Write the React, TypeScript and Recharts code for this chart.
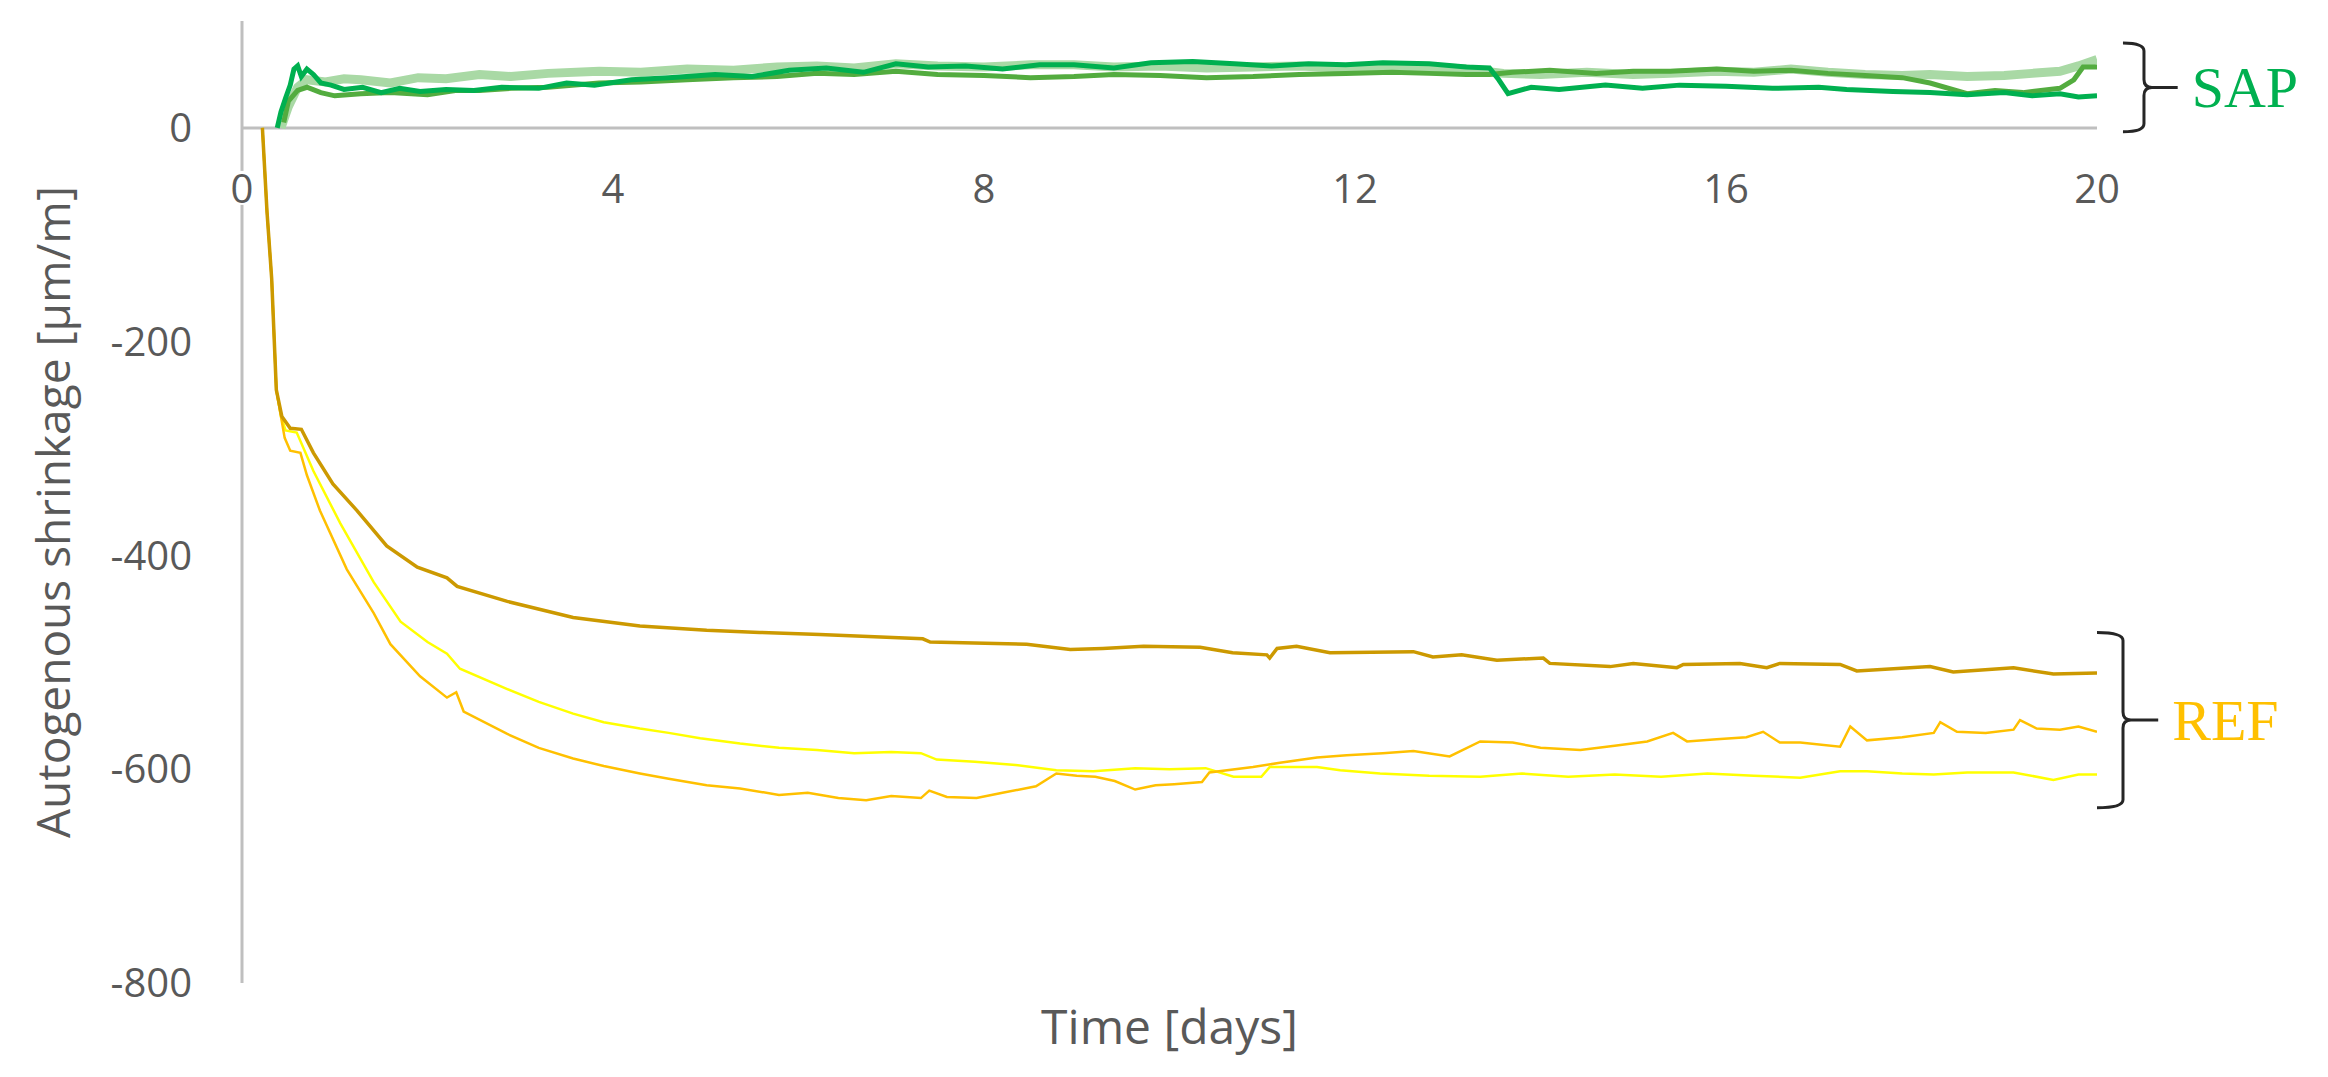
import { LineChart, Line, XAxis, YAxis, ReferenceLine, ReferenceDot, ReferenceArea, Label } from 'recharts'

// [day, µm/m]
const sapDark: [number, number][] = [
  [0.38, 0], [0.42, 15], [0.47, 28], [0.52, 40], [0.56, 55], [0.6, 58], [0.64, 48], [0.7, 55], [0.77, 50], [0.85, 42],
  [0.96, 40], [1.1, 36], [1.3, 38], [1.5, 33], [1.7, 37], [1.92, 34], [2.2, 36], [2.5, 35], [2.8, 38], [3.2, 37],
  [3.5, 42], [3.8, 40], [4.2, 45], [4.6, 47], [5.1, 50], [5.5, 48], [5.9, 54], [6.3, 56], [6.7, 52], [7.05, 60],
  [7.4, 57], [7.8, 58], [8.2, 55], [8.6, 59], [8.97, 59], [9.4, 56], [9.8, 61], [10.25, 62], [10.7, 60], [11.1, 58],
  [11.5, 60], [11.9, 59], [12.3, 61], [12.8, 60], [13.2, 57], [13.45, 56], [13.55, 45], [13.65, 32], [13.9, 38], [14.2, 36],
  [14.7, 40], [15.1, 37], [15.5, 40], [16, 39], [16.5, 37], [17, 38], [17.3, 36], [17.8, 34], [18.2, 33], [18.6, 31],
  [19, 33], [19.3, 30], [19.6, 32], [19.8, 29], [20, 30],
]
const sapMid: [number, number][] = [
  [0.45, 5], [0.5, 25], [0.6, 35], [0.7, 38], [0.85, 33], [1.0, 30], [1.28, 32], [1.6, 33], [2.0, 31], [2.3, 35],
  [2.56, 35], [2.9, 37], [3.3, 38], [3.85, 42], [4.3, 43], [4.8, 45], [5.3, 47], [5.77, 48], [6.2, 51], [6.6, 50],
  [7.05, 53], [7.5, 50], [8.0, 49], [8.5, 47], [8.97, 48], [9.4, 50], [9.9, 49], [10.4, 47], [10.9, 48], [11.4, 50],
  [11.9, 51], [12.4, 52], [12.8, 51], [13.2, 50], [13.45, 50], [13.7, 52], [14.1, 54], [14.6, 51], [15, 53], [15.4, 53],
  [15.9, 55], [16.3, 53], [16.7, 54], [17.1, 51], [17.5, 49], [17.9, 47], [18.2, 42], [18.6, 32], [18.9, 35], [19.2, 33],
  [19.6, 37], [19.75, 45], [19.85, 57], [20, 57],
]
const sapLight: [number, number][] = [
  [0.42, 0], [0.5, 20], [0.6, 38], [0.7, 45], [0.9, 43], [1.1, 46], [1.28, 45], [1.6, 42], [1.9, 47], [2.2, 46],
  [2.56, 50], [2.9, 48], [3.3, 51], [3.85, 53], [4.3, 52], [4.8, 55], [5.3, 54], [5.77, 57], [6.2, 58], [6.6, 56],
  [7.05, 60], [7.5, 58], [8.0, 57], [8.5, 59], [8.97, 59], [9.4, 57], [9.9, 58], [10.4, 56], [10.9, 57], [11.4, 58],
  [11.9, 56], [12.4, 58], [12.8, 57], [13.2, 55], [13.6, 51], [14.0, 50], [14.5, 52], [15, 50], [15.4, 51], [15.9, 53],
  [16.3, 52], [16.7, 55], [17.1, 52], [17.5, 50], [17.9, 49], [18.2, 50], [18.6, 48], [19, 49], [19.3, 51], [19.6, 53],
  [19.8, 58], [20, 64],
]
const refDark: [number, number][] = [
  [0.22, 0], [0.27, -79], [0.32, -141], [0.37, -245], [0.43, -270], [0.52, -281], [0.64, -282], [0.77, -304], [0.98, -333], [1.24, -358],
  [1.56, -391], [1.89, -411], [2.21, -421], [2.32, -429], [2.86, -443], [3.57, -458], [4.29, -466], [5.01, -470], [5.58, -472], [6.23, -474],
  [7.34, -478], [7.42, -481], [8.46, -483], [8.93, -488], [9.28, -487], [9.72, -485], [10.33, -486], [10.68, -491], [11.05, -493], [11.08, -496],
  [11.16, -487], [11.37, -485], [11.73, -491], [12.63, -490], [12.84, -495], [13.15, -493], [13.53, -498], [14.03, -496], [14.1, -501], [14.75, -504],
  [15.0, -501], [15.47, -505], [15.54, -502], [16.15, -501], [16.44, -505], [16.58, -501], [17.23, -502], [17.41, -508], [18.2, -504], [18.45, -509],
  [19.1, -505], [19.53, -511], [20, -510],
]
const refOrange: [number, number][] = [
  [0.22, 0], [0.27, -79], [0.32, -141], [0.37, -245], [0.42, -270], [0.46, -290], [0.52, -302], [0.63, -304], [0.7, -325], [0.84, -358],
  [1.13, -413], [1.42, -454], [1.6, -483], [1.92, -513], [2.21, -533], [2.31, -528], [2.39, -546], [2.86, -567], [3.2, -580], [3.57, -590],
  [3.9, -597], [4.29, -604], [4.6, -609], [5.01, -615], [5.37, -618], [5.79, -624], [6.1, -622], [6.43, -627], [6.73, -629], [7.0, -625],
  [7.32, -627], [7.41, -620], [7.6, -626], [7.92, -627], [8.2, -622], [8.56, -616], [8.78, -604], [9.0, -606], [9.2, -607], [9.41, -611],
  [9.63, -619], [9.85, -615], [10.05, -614], [10.35, -612], [10.43, -603], [10.9, -598], [11.19, -594], [11.59, -589], [11.91, -587], [12.3, -585],
  [12.63, -583], [13.02, -588], [13.35, -574], [13.7, -575], [14.0, -580], [14.43, -582], [14.8, -578], [15.15, -574], [15.43, -566], [15.58, -574],
  [15.9, -572], [16.22, -570], [16.4, -565], [16.58, -575], [16.8, -575], [17.23, -579], [17.34, -560], [17.52, -573], [17.9, -570], [18.24, -566],
  [18.31, -556], [18.49, -565], [18.8, -566], [19.1, -563], [19.17, -554], [19.35, -562], [19.6, -563], [19.8, -560], [20, -565],
]
const refYellow: [number, number][] = [
  [0.22, 0], [0.27, -79], [0.32, -141], [0.37, -245], [0.42, -270], [0.47, -283], [0.59, -285], [0.77, -321], [1.06, -370], [1.42, -425],
  [1.71, -462], [2.0, -481], [2.21, -492], [2.35, -506], [2.86, -525], [3.2, -537], [3.57, -548], [3.9, -556], [4.29, -562], [4.6, -566],
  [4.94, -571], [5.37, -576], [5.79, -580], [6.2, -582], [6.6, -585], [7.0, -584], [7.32, -585], [7.49, -591], [7.9, -593], [8.34, -596],
  [8.78, -601], [9.18, -602], [9.63, -599], [10.0, -600], [10.39, -599], [10.69, -607], [10.99, -607], [11.08, -598], [11.59, -598], [11.84, -601],
  [12.27, -604], [12.8, -606], [13.35, -607], [13.8, -604], [14.3, -607], [14.8, -605], [15.3, -607], [15.8, -604], [16.3, -606], [16.8, -608],
  [17.23, -602], [17.52, -602], [17.9, -604], [18.24, -605], [18.6, -603], [19.1, -603], [19.53, -610], [19.8, -605], [20, -605],
]
const xTicks = [0, 4, 8, 12, 16, 20]
const yTicks = [-800, -600, -400, -200, 0]

const toRows = (pts: [number, number][]) => pts.map(([day, v]) => ({ day, v }))

const GREY = '#595959'
const FONT = '"Open Sans", sans-serif'

function XTick({ viewBox, value }: any) {
  const cx = viewBox.x + viewBox.width / 2
  const mid = viewBox.y + viewBox.height + 60
  return (
    <g>
      <rect x={cx - 15} y={mid - 17} width={30} height={34} fill="#fff" />
      <text x={cx} y={mid} textAnchor="middle" dominantBaseline="central" fill={GREY} fontSize={40} fontFamily={FONT}>{value}</text>
    </g>
  )
}

const brace = (text: string, color: string, stem: number, gap: number) => (p: any) => {
  const L = p.x, T = p.x + p.width, V = L + stem
  const yt = p.y, yb = p.y + p.height, ym = p.y + p.height / 2
  const c = 8
  const d = `M ${L} ${yt} Q ${V} ${yt} ${V} ${yt + c} L ${V} ${ym - c} Q ${V} ${ym} ${V + c} ${ym} L ${T} ${ym}`
    + ` M ${V + c} ${ym} Q ${V} ${ym} ${V} ${ym + c} L ${V} ${yb - c} Q ${V} ${yb} ${L} ${yb}`
  return (
    <g>
      <path d={d} fill="none" stroke="#262626" strokeWidth={3} />
      <text x={T + gap} y={ym} dominantBaseline="central" fill={color} fontSize={58} fontFamily='"Liberation Serif", serif'>{text}</text>
    </g>
  )
}

export default function App() {
  return (
    <LineChart width={2312} height={1061} margin={{ top: 13, right: 223, bottom: 0, left: 0 }}>
      <XAxis type="number" dataKey="day" domain={[0, 20]} ticks={xTicks} height={86} axisLine={false} tickLine={false} tick={false} allowDataOverflow>
        <Label content={({ viewBox }: any) => (
          <text x={viewBox.x + viewBox.width / 2} y={viewBox.y + 42} textAnchor="middle" dominantBaseline="central" fill={GREY} fontSize={48} fontFamily={FONT}>Time [days]</text>
        )} />
      </XAxis>
      <YAxis type="number" domain={[-800, 100]} ticks={yTicks} width={234} tickSize={0} tickMargin={50} allowDataOverflow
        axisLine={{ stroke: '#bfbfbf', strokeWidth: 3 }} tickLine={false}
        tick={{ fill: GREY, fontSize: 40, fontFamily: FONT }}>
        <Label content={({ viewBox }: any) => {
          const x = viewBox.x + 44, y = viewBox.y + viewBox.height / 2 + 10
          return <text x={x} y={y} transform={`rotate(-90 ${x} ${y})`} textAnchor="middle" dominantBaseline="central" fill={GREY} fontSize={46} fontFamily={FONT}>Autogenous shrinkage [µm/m]</text>
        }} />
      </YAxis>
      <ReferenceLine y={0} stroke="#bfbfbf" strokeWidth={3} />
      {xTicks.map(t => (
        <ReferenceDot key={t} x={t} y={0} r={0} stroke="none" fill="none" label={<XTick value={t} />} />
      ))}
      <Line data={toRows(sapLight)} dataKey="v" stroke="#a9d9a5" strokeWidth={9} dot={false} activeDot={false} isAnimationActive={false} />
      <Line data={toRows(sapMid)} dataKey="v" stroke="#53ac3f" strokeWidth={5} dot={false} activeDot={false} isAnimationActive={false} />
      <Line data={toRows(sapDark)} dataKey="v" stroke="#00b050" strokeWidth={5} dot={false} activeDot={false} isAnimationActive={false} />
      <Line data={toRows(refYellow)} dataKey="v" stroke="#ffff00" strokeWidth={2.5} dot={false} activeDot={false} isAnimationActive={false} />
      <Line data={toRows(refOrange)} dataKey="v" stroke="#ffc000" strokeWidth={2.5} dot={false} activeDot={false} isAnimationActive={false} />
      <Line data={toRows(refDark)} dataKey="v" stroke="#cc9900" strokeWidth={3.5} dot={false} activeDot={false} isAnimationActive={false} />
      <ReferenceArea x1={20.28} x2={20.87} y1={-3.7} y2={79.5} ifOverflow="visible" shape={brace('SAP', '#00b050', 21, 14)} />
      <ReferenceArea x1={20} x2={20.66} y1={-636} y2={-472} ifOverflow="visible" shape={brace('REF', '#ffc000', 26, 14)} />
    </LineChart>
  )
}
